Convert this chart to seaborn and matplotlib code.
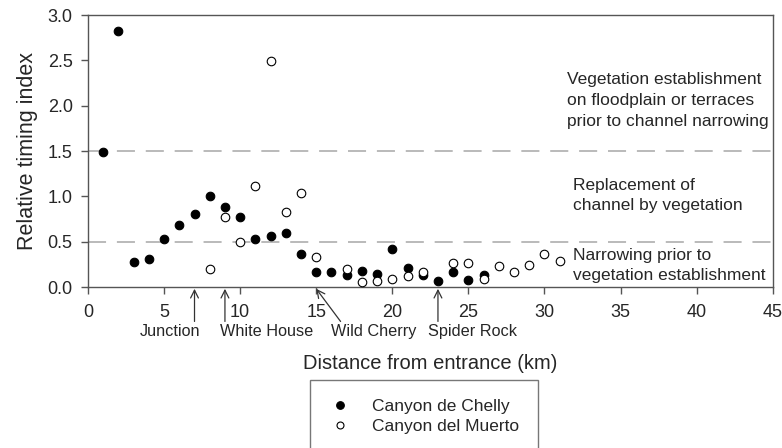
import matplotlib
matplotlib.use("Agg")
import matplotlib.pyplot as plt
from matplotlib.lines import Line2D
import seaborn as sns
import pandas as pd

# Data
chelly_x = [1, 2, 3, 4, 5, 6, 7, 8, 9, 10, 11, 12, 13, 14, 15, 16, 17, 18, 19, 20, 21, 22, 23, 24, 25, 26]
chelly_y = [1.49, 2.82, 0.28, 0.31, 0.53, 0.68, 0.81, 1.00, 0.885, 0.77, 0.525, 0.56, 0.60, 0.36,
            0.16, 0.17, 0.13, 0.18, 0.14, 0.42, 0.21, 0.13, 0.07, 0.16, 0.08, 0.13]
muerto_x = [8, 9, 10, 11, 12, 13, 14, 15, 17, 18, 19, 20, 21, 22, 24, 25, 26, 27, 28, 29, 30, 31]
muerto_y = [0.195, 0.77, 0.50, 1.11, 2.495, 0.83, 1.04, 0.33, 0.20, 0.05, 0.07, 0.09, 0.12, 0.17,
            0.27, 0.26, 0.09, 0.23, 0.17, 0.24, 0.36, 0.29]
series_names = ["Canyon de Chelly", "Canyon del Muerto"]
thresholds = [0.5, 1.5]
places = ["Junction", "White House", "Wild Cherry", "Spider Rock"]
place_km = [7, 9, 15, 23]
zone_texts = ["Vegetation establishment\non floodplain or terraces\nprior to channel narrowing",
              "Replacement of\nchannel by vegetation",
              "Narrowing prior to\nvegetation establishment"]
xticks = [0, 5, 10, 15, 20, 25, 30, 35, 40, 45]
yticks = [0.0, 0.5, 1.0, 1.5, 2.0, 2.5, 3.0]

sns.set_style("ticks")
plt.rcParams['font.family'] = ['Liberation Sans', 'DejaVu Sans']

df = pd.concat([
    pd.DataFrame({"km": chelly_x, "rti": chelly_y, "canyon": series_names[0]}),
    pd.DataFrame({"km": muerto_x, "rti": muerto_y, "canyon": series_names[1]}),
])

fig = plt.figure(figsize=(7.82, 4.48), dpi=100)
ax = fig.add_axes([88/782, 1-287/448, (772.7-88)/782, (287-15)/448])

for y in thresholds:
    ax.axhline(y, color="#b4b4b4", lw=1.3, dashes=(10, 6), zorder=0)

sns.scatterplot(data=df[df.canyon == series_names[0]], x="km", y="rti", ax=ax,
                s=38, color="black", edgecolor="black", linewidth=0.8, zorder=3, legend=False)
sns.scatterplot(data=df[df.canyon == series_names[1]], x="km", y="rti", ax=ax,
                s=38, color="white", edgecolor="black", linewidth=0.8, zorder=3, legend=False)

ax.set_xlim(0, 45)
ax.set_ylim(0, 3.0)
ax.set_xticks(xticks)
ax.set_yticks(yticks)
ax.set_yticklabels([f"{v:.1f}" for v in yticks])
for s in ax.spines.values():
    s.set_color("#555555")
    s.set_linewidth(1.0)
ax.tick_params(axis="both", direction="out", length=5, width=1, color="#555555",
               labelsize=13, pad=6)
ax.tick_params(axis="x", pad=7)
ax.set_xlabel("Distance from entrance (km)", fontsize=14.5, labelpad=24)
ax.set_ylabel("Relative timing index", fontsize=15.5, labelpad=7)

# Place arrows and labels
label_centers = [5.37, 11.74, 18.77, 25.26]
for name, km, lx in zip(places, place_km, label_centers):
    if name == "Wild Cherry":
        tail = (16.6, -0.38)
    else:
        tail = (km, -0.38)
    ax.annotate("", xy=(km, -0.02), xytext=tail, annotation_clip=False,
                arrowprops=dict(arrowstyle="->", color="#333333", lw=0.9,
                                mutation_scale=14, shrinkA=0, shrinkB=0))
    ax.text(lx, -0.49, name, ha="center", va="center", fontsize=11.7, clip_on=False)

ax.text(31.5, 2.06, zone_texts[0], ha="left", va="center", fontsize=12.5, linespacing=1.5)
ax.text(31.86, 1.01, zone_texts[1], ha="left", va="center", fontsize=12.5, linespacing=1.45)
ax.text(31.86, 0.24, zone_texts[2], ha="left", va="center", fontsize=12.5, linespacing=1.45)

handles = [
    Line2D([], [], ls="", marker="o", markersize=5.5, markerfacecolor="black",
           markeredgecolor="black", markeredgewidth=0.8),
    Line2D([], [], ls="", marker="o", markersize=5.0, markerfacecolor="white",
           markeredgecolor="black", markeredgewidth=0.8),
]
leg = fig.legend(handles, series_names, loc="upper left", bbox_to_anchor=(310/782, 1-380/448),
                 frameon=True, fancybox=False, fontsize=12.5,
                 handlelength=1.2, handletextpad=1.25, borderpad=1.1, borderaxespad=0,
                 labelspacing=0.25)
leg.get_frame().set_edgecolor("#555555")
leg.get_frame().set_linewidth(1.0)

fig.savefig("out.png", dpi=100)
